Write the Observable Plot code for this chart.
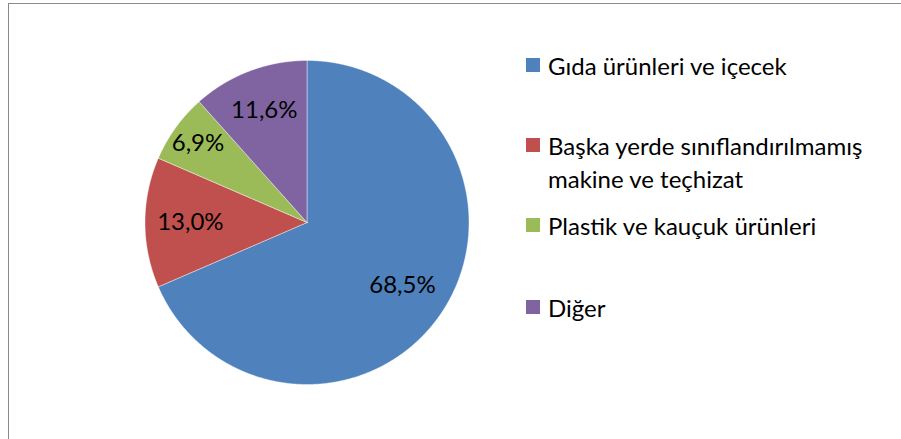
<!DOCTYPE html>
<html><head><meta charset="utf-8">
<script src="https://cdn.jsdelivr.net/npm/d3@7"></script>
<script src="https://cdn.jsdelivr.net/npm/@observablehq/plot@0.6"></script>
<style>
body{margin:0;background:#fff;}
#wrap{position:relative;width:901px;height:439px;overflow:hidden;font-family:Lato,"Open Sans",sans-serif;}
#frame{position:absolute;left:8px;top:3px;width:1000px;height:1000px;border:1.5px solid #8a8a8a;box-sizing:border-box;}
#chart{position:absolute;left:0;top:0;}
.leg{position:absolute;left:526px;font-size:24px;color:#000;line-height:33px;display:flex;white-space:nowrap;}
.sw{width:14px;height:14px;margin-top:9.5px;margin-right:8px;flex:none;}
</style></head>
<body>
<div id="wrap"><div id="frame"></div><div id="chart"></div></div>
<script>
const categories = ["Gıda ürünleri ve içecek","Başka yerde sınıflandırılmamış makine ve teçhizat","Plastik ve kauçuk ürünleri","Diğer"];
const legendLines = [["Gıda ürünleri ve içecek"],["Başka yerde sınıflandırılmamış","makine ve teçhizat"],["Plastik ve kauçuk ürünleri"],["Diğer"]];
const shares = [68.5, 13.0, 6.9, 11.6];
const shareLabels = ["68,5%","13,0%","6,9%","11,6%"];
const colors = ["#4F81BD","#C0504D","#9BBB59","#8064A2"];
const labelRadius = [0.705, 0.72, 0.83, 0.74];

const data = categories.map((c,i)=>({cat:c, v:shares[i], label:shareLabels[i], lr:labelRadius[i]}));
const arcs = d3.pie().sort(null).value(d=>d.v)(data);
const pts = [];
const labs = [];
arcs.forEach(a=>{
  const c = a.data.cat;
  const n = Math.max(2, Math.ceil((a.endAngle-a.startAngle)/0.005));
  pts.push({cat:c,x:0,y:0});
  for(let k=0;k<=n;k++){const ang=a.startAngle+(a.endAngle-a.startAngle)*k/n; pts.push({cat:c,x:Math.sin(ang),y:Math.cos(ang)});}
  pts.push({cat:c,x:0,y:0});
  const m=(a.startAngle+a.endAngle)/2;
  labs.push({x:a.data.lr*Math.sin(m), y:a.data.lr*Math.cos(m), t:a.data.label});
});

const chart = Plot.plot({
  width:901, height:439,
  marginLeft:144.5, marginRight:432.5, marginTop:60, marginBottom:55,
  x:{domain:[-1,1], axis:null},
  y:{domain:[-1,1], axis:null},
  color:{domain:categories, range:colors},
  style:{fontFamily:"Lato, 'Open Sans', sans-serif", background:"transparent"},
  marks:[
    Plot.line(pts,{x:"x",y:"y",z:"cat",fill:"cat",stroke:"#ffffff",strokeWidth:0.6,strokeOpacity:0.7,curve:"linear"}),
    Plot.text(labs,{x:"x",y:"y",text:"t",fontSize:24,fill:"#000"})
  ]
});
document.getElementById("chart").appendChild(chart);

const tops=[48.5,128.5,208.5,290.5];
categories.forEach((c,i)=>{
  const d=document.createElement("div");d.className="leg";d.style.top=tops[i]+"px";
  const s=document.createElement("div");s.className="sw";s.style.background=colors[i];d.appendChild(s);
  const t=document.createElement("div");t.innerHTML=legendLines[i].join("<br>");d.appendChild(t);
  document.getElementById("wrap").appendChild(d);
});
</script>
</body></html>
